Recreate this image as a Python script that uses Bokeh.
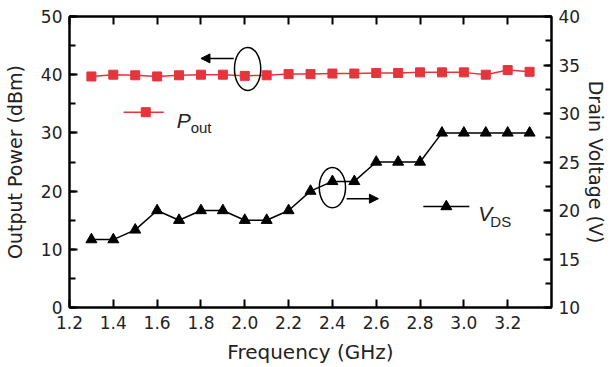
from bokeh.plotting import figure
from bokeh.models import (LinearAxis, Range1d, SingleIntervalTicker, PrintfTickFormatter,
                          Arrow, NormalHead, CustomJSTickFormatter)
from bokeh.core.properties import value
from bokeh.embed import file_html
from bokeh.resources import INLINE

freq = [1.3, 1.4, 1.5, 1.6, 1.7, 1.8, 1.9, 2.0, 2.1, 2.2, 2.3, 2.4, 2.5, 2.6, 2.7, 2.8, 2.9, 3.0, 3.1, 3.2, 3.3]
pout = [39.7, 40.0, 39.9, 39.7, 39.9, 40.0, 40.0, 39.8, 39.9, 40.1, 40.1, 40.2, 40.2, 40.3, 40.3, 40.4, 40.4, 40.4, 40.0, 40.8, 40.5]
vds = [17, 17, 18, 20, 19, 20, 20, 19, 19, 20, 22, 23, 23, 25, 25, 25, 28, 28, 28, 28, 28]

FONT = "DejaVu Sans"
LFONT = "Liberation Sans"
RED = "#e4343c"
TXT = "#222222"

p = figure(width=610, height=367, output_backend="svg", toolbar_location=None,
           x_range=Range1d(1.2, 3.4), y_range=Range1d(0, 50),
           min_border_left=69, min_border_right=59, min_border_top=16, min_border_bottom=60)
p.extra_y_ranges = {"v": Range1d(10, 40)}
p.xgrid.visible = False
p.ygrid.visible = False
p.outline_line_color = "black"
p.outline_line_width = 2
p.background_fill_color = "white"
p.border_fill_color = "white"

def style(ax):
    ax.axis_line_width = 2
    ax.axis_line_color = "black"
    ax.major_tick_in = 8
    ax.major_tick_out = 0
    ax.minor_tick_in = 6
    ax.minor_tick_out = 0
    ax.major_tick_line_width = 2
    ax.minor_tick_line_width = 2
    ax.major_label_text_font = FONT
    ax.major_label_text_font_size = "17px"
    ax.major_label_text_color = TXT
    ax.axis_label_text_font = FONT
    ax.axis_label_text_font_size = "19px"
    ax.axis_label_text_font_style = "normal"
    ax.axis_label_text_color = TXT

xa = p.xaxis[0]
xa.ticker = SingleIntervalTicker(interval=0.2, num_minor_ticks=0)
xa.formatter = PrintfTickFormatter(format="%.1f")
xa.axis_label = "Frequency (GHz)"
style(xa)
xa.axis_label_text_font_size = "20px"
xa.major_label_standoff = 8
xa.axis_label_standoff = 8

ya = p.yaxis[0]
ya.ticker = SingleIntervalTicker(interval=10, num_minor_ticks=2)
ya.axis_label = "Output Power (dBm)"
style(ya)
ya.major_label_standoff = 7
ya.axis_label_standoff = 12

ra = LinearAxis(y_range_name="v", ticker=SingleIntervalTicker(interval=5, num_minor_ticks=2),
                axis_label="Drain Voltage (V)")
style(ra)
ra.major_label_standoff = 7
ra.axis_label_standoff = 2
p.add_layout(ra, "right")

ta = LinearAxis(ticker=SingleIntervalTicker(interval=0.2, num_minor_ticks=0),
                formatter=CustomJSTickFormatter(code="return ''"))
style(ta)
ta.major_label_standoff = 0
p.add_layout(ta, "above")

# data series
p.line(freq, pout, line_color=RED, line_width=1.5)
p.scatter(freq, pout, marker="square", size=9, fill_color=RED, line_color=RED)
p.line(freq, vds, y_range_name="v", line_color="black", line_width=1.5)
p.scatter(freq, vds, y_range_name="v", marker="triangle", size=11, fill_color="black", line_color="black")

# legend-like keys
p.line([1.447, 1.63], [33.56, 33.56], line_color=RED, line_width=1.5)
p.scatter([1.548], [33.56], marker="square", size=9, fill_color=RED, line_color=RED)
p.text([1.69], [32.1], text=["P"], text_font=value(LFONT), text_font_size="21px",
       text_font_style="italic", text_baseline="alphabetic", text_color=TXT)
p.text([1.753], [31.0], text=["out"], text_font=value(LFONT), text_font_size="15px",
       text_baseline="alphabetic", text_color=TXT)

p.line([2.815, 3.025], [17.35, 17.35], line_color="black", line_width=1.5)
p.scatter([2.92], [17.35], marker="triangle", size=11, fill_color="black", line_color="black")
p.text([3.066], [16.15], text=["V"], text_font=value(LFONT), text_font_size="21px",
       text_font_style="italic", text_baseline="alphabetic", text_color=TXT)
p.text([3.121], [14.7], text=["DS"], text_font=value(LFONT), text_font_size="15px",
       text_baseline="alphabetic", text_color=TXT)

# ellipses and arrows
p.ellipse(x=[2.013, 2.40], y=[41.0, 20.6], width=[0.12, 0.12], height=[7.4, 6.9],
          fill_color=None, line_color="black", line_width=1.5)
p.add_layout(Arrow(x_start=1.95, y_start=42.8, x_end=1.80, y_end=42.8, line_width=1.5,
                   end=NormalHead(size=9, fill_color="black", line_color="black")))
p.add_layout(Arrow(x_start=2.465, y_start=18.7, x_end=2.61, y_end=18.7, line_width=1.5,
                   end=NormalHead(size=9, fill_color="black", line_color="black")))

open("out.html", "w").write(file_html(p, INLINE))
